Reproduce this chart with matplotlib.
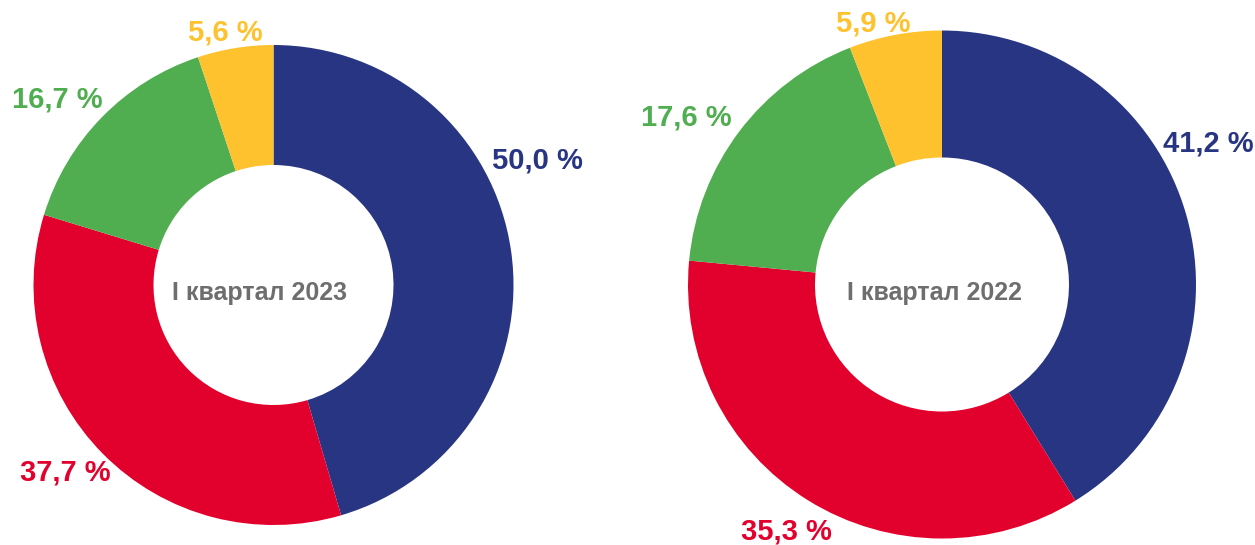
import matplotlib.pyplot as plt

plt.rcParams['font.family'] = ['Liberation Sans', 'DejaVu Sans']

# Datos (orden: azul, rojo, verde, amarillo; sentido horario desde arriba)
valores_2023 = [50.0, 37.7, 16.7, 5.6]
valores_2022 = [41.2, 35.3, 17.6, 5.9]
titulo_2023 = "I квартал 2023"
titulo_2022 = "I квартал 2022"

colores = ['#283583', '#e2002d', '#50ae50', '#fec22f']
gris = '#6e6e6e'

W, H = 1255, 545
fig = plt.figure(figsize=(W / 100, H / 100), dpi=100)


def dibujar_dona(cx, cy, r, valores, titulo, pos_etiquetas, pos_titulo):
    # cx, cy en pixeles (y desde arriba), r = radio exterior en pixeles
    ax = fig.add_axes([(cx - r) / W, (H - cy - r) / H, 2 * r / W, 2 * r / H])
    ax.pie(valores, colors=colores, startangle=90, counterclock=False,
           wedgeprops=dict(width=0.5, linewidth=0))
    ax.set_xlim(-1, 1)
    ax.set_ylim(-1, 1)
    ax.set_aspect('equal')
    ax.axis('off')
    for v, c, (x, y) in zip(valores, colores, pos_etiquetas):
        ax.text(x, y, f"{v:.1f} %".replace('.', ','), color=c, fontsize=21,
                fontweight='bold', ha='center', va='center', clip_on=False)
    ax.text(pos_titulo[0], pos_titulo[1], titulo, color=gris, fontsize=18,
            fontweight='bold', ha='center', va='center')


dibujar_dona(273.5, 285, 240, valores_2023, titulo_2023,
             [(1.098, 0.517), (-0.869, -0.783), (-0.902, 0.771), (-0.202, 1.054)],
             (-0.06, -0.033))
dibujar_dona(942, 284.5, 254, valores_2022, titulo_2022,
             [(1.047, 0.557), (-0.614, -0.974), (-1.008, 0.659), (-0.272, 1.026)],
             (-0.031, -0.033))

fig.savefig('out.png', dpi=100)
